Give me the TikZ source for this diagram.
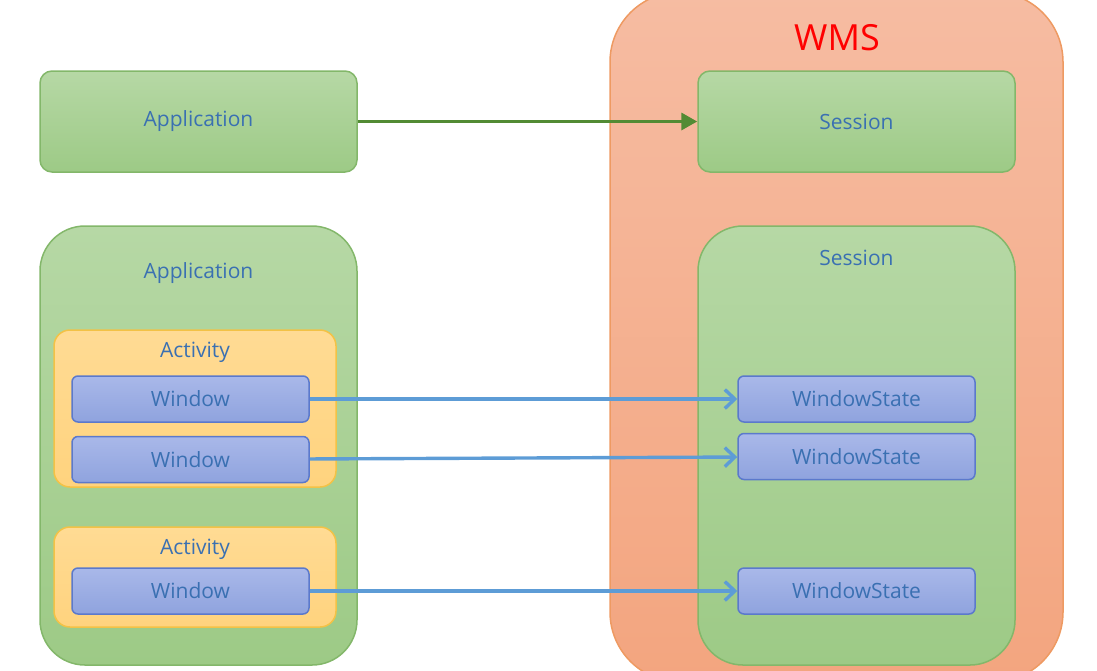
\documentclass[tikz,border=0pt]{standalone}
\usepackage{fontspec}
\setmainfont{Open Sans}
\usetikzlibrary{arrows.meta,positioning}

\definecolor{wmstop}{HTML}{F6BCA2}
\definecolor{wmsbot}{HTML}{F3A57F}
\definecolor{wmsline}{HTML}{EE9A62}
\definecolor{greentop}{HTML}{B6D8A5}
\definecolor{greenbot}{HTML}{9DCA86}
\definecolor{greenline}{HTML}{83B76A}
\definecolor{acttop}{HTML}{FFDB94}
\definecolor{actbot}{HTML}{FFD37E}
\definecolor{actline}{HTML}{F3C246}
\definecolor{wintop}{HTML}{A9B8E9}
\definecolor{winbot}{HTML}{8FA3DE}
\definecolor{winline}{HTML}{5B79CC}
\definecolor{labelblue}{HTML}{3A70B2}
\definecolor{arrgreen}{HTML}{528B34}
\definecolor{arrblue}{HTML}{5D9CD6}

\begin{document}
\begin{tikzpicture}[
  x=1pt,y=-1pt,
  node distance=13pt,
  wmsbox/.style={draw=wmsline,line width=1.5pt,top color=wmstop,bottom color=wmsbot,rounded corners=70pt,minimum width=453pt,minimum height=690pt,inner sep=0pt},
  greenbox/.style={draw=greenline,line width=1.5pt,top color=greentop,bottom color=greenbot,rounded corners=12pt,minimum width=317pt,minimum height=101pt,inner sep=0pt},
  bigbox/.style={greenbox,rounded corners=45pt,minimum height=439pt},
  actbox/.style={draw=actline,line width=1.5pt,top color=acttop,bottom color=actbot,rounded corners=16pt,minimum width=282pt,inner sep=0pt},
  winbox/.style={draw=winline,line width=1.5pt,top color=wintop,bottom color=winbot,rounded corners=6pt,minimum width=237pt,minimum height=46pt,inner sep=0pt},
  lbl/.style={text=labelblue,font=\fontsize{21}{25}\selectfont,inner sep=0pt},
  garr/.style={draw=arrgreen,line width=3.4pt,-{Triangle[length=16pt,width=17pt]}},
  barr/.style={draw=arrblue,line width=3.4pt,-{Straight Barb[length=10pt,width=19pt,line width=3.4pt]}}
]
\clip (0,0) rectangle (1097,670);

% WMS side
\node[wmsbox] (wms) at (836.5,337) {};
\node[text=red,font=\fontsize{36}{42}\selectfont,inner sep=0pt] (wmslbl) at (837,38) {WMS};
\node[greenbox,lbl] (sess1) at (856.5,121.5) {Session};
\node[bigbox] (sess2) at (856.5,445.5) {};
\node[lbl] (sess2lbl) at (856.5,258) {Session};
\node[winbox,lbl] (ws1) at (856.5,399) {WindowState};
\node[winbox,lbl,below=10pt of ws1] (ws2) {WindowState};
\node[winbox,lbl] (ws3) at (856.5,591) {WindowState};

% app side
\node[greenbox,lbl] (app1) at (198.5,121.5) {Application};
\node[bigbox] (app2) at (198.5,445.5) {};
\node[lbl] (app2lbl) at (198.5,273) {Application};
\node[actbox,minimum height=157pt] (act1) at (195,408.5) {};
\node[lbl] (act1lbl) at (195,352) {Activity};
\node[winbox,lbl] (win1) at (190.5,399) {Window};
\node[winbox,lbl,below=of win1] (win2) {Window};
\node[actbox,minimum height=100pt] (act2) at (195,577) {};
\node[lbl] (act2lbl) at (195,549) {Activity};
\node[winbox,lbl] (win3) at (190.5,591) {Window};

\draw[garr] (app1) -- (sess1);
\draw[barr] (win1) -- (ws1);
\draw[barr] (win2) -- (ws2);
\draw[barr] (win3) -- (ws3);
\end{tikzpicture}
\end{document}
